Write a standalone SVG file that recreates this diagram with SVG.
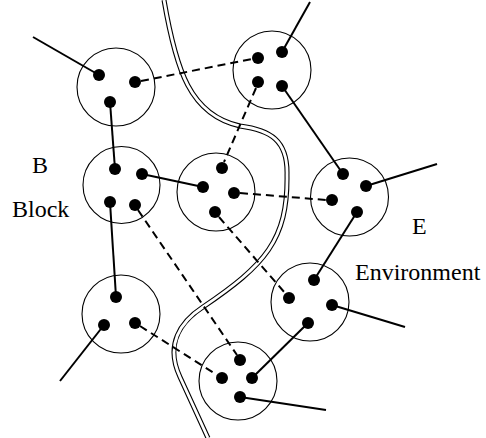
<svg xmlns="http://www.w3.org/2000/svg" width="486" height="438" viewBox="0 0 486 438">
<style>
.ring{fill:none;stroke:#000;stroke-width:1.1}
.dot{fill:#000}
.solid{stroke:#000;stroke-width:2;fill:none}
.dash{stroke:#000;stroke-width:2;fill:none;stroke-dasharray:8 5}
.lbl{font-family:"Liberation Serif","Times New Roman",serif;font-size:24px;fill:#000}
</style>
<rect width="486" height="438" fill="#fff"/>
<g id="boundary">
<path d="M164,0 C176,70 190,115 240,126 C270,130 288,140 287,175 C288,240 265,265 203,307 C180,322 165,345 180,377 L208,438" fill="none" stroke="#000" stroke-width="5"/>
<path d="M164,0 C176,70 190,115 240,126 C270,130 288,140 287,175 C288,240 265,265 203,307 C180,322 165,345 180,377 L208,438" fill="none" stroke="#fff" stroke-width="2.8"/>
</g>
<g id="connectors">
<line class="solid" x1="33" y1="37" x2="99" y2="75"/>
<line class="solid" x1="282" y1="52" x2="310" y2="2"/>
<line class="solid" x1="366" y1="186" x2="437" y2="164"/>
<line class="solid" x1="332" y1="305" x2="405" y2="327"/>
<line class="solid" x1="240" y1="397" x2="326" y2="410"/>
<line class="solid" x1="104" y1="325" x2="60" y2="381"/>
<line class="solid" x1="110" y1="102" x2="115" y2="169"/>
<line class="solid" x1="142" y1="174" x2="203" y2="187"/>
<line class="solid" x1="282" y1="86" x2="343" y2="174"/>
<line class="solid" x1="357" y1="212" x2="314" y2="280"/>
<line class="solid" x1="308" y1="323" x2="252" y2="378"/>
<line class="solid" x1="110" y1="202" x2="116" y2="297"/>
<line class="dash" x1="141" y1="81" x2="252" y2="59"/>
<line class="dash" x1="256" y1="88" x2="224" y2="162"/>
<line class="dash" x1="240" y1="193" x2="326" y2="200"/>
<line class="dash" x1="219" y1="217" x2="285" y2="293"/>
<line class="dash" x1="138" y1="210" x2="237" y2="355"/>
<line class="dash" x1="140" y1="326" x2="217" y2="375"/>
</g>
<g id="n1"><circle class="ring" cx="116" cy="87" r="39"/><circle class="dot" cx="99" cy="75" r="6"/><circle class="dot" cx="135" cy="82" r="6"/><circle class="dot" cx="110" cy="102" r="6"/></g>
<g id="n2"><circle class="ring" cx="121.5" cy="185" r="38.5"/><circle class="dot" cx="115" cy="169" r="6"/><circle class="dot" cx="142" cy="174" r="6"/><circle class="dot" cx="110" cy="202" r="6"/><circle class="dot" cx="135" cy="205" r="6"/></g>
<g id="n3"><circle class="ring" cx="216" cy="192" r="39"/><circle class="dot" cx="222" cy="168" r="6"/><circle class="dot" cx="203" cy="187" r="6"/><circle class="dot" cx="234" cy="193" r="6"/><circle class="dot" cx="215" cy="212" r="6"/></g>
<g id="n4"><circle class="ring" cx="272" cy="70" r="39"/><circle class="dot" cx="258" cy="58" r="6"/><circle class="dot" cx="282" cy="52" r="6"/><circle class="dot" cx="258" cy="82" r="6"/><circle class="dot" cx="282" cy="86" r="6"/></g>
<g id="n5"><circle class="ring" cx="349.5" cy="197" r="39"/><circle class="dot" cx="343" cy="174" r="6"/><circle class="dot" cx="366" cy="186" r="6"/><circle class="dot" cx="332" cy="200" r="6"/><circle class="dot" cx="357" cy="212" r="6"/></g>
<g id="n6"><circle class="ring" cx="310" cy="302" r="39"/><circle class="dot" cx="314" cy="280" r="6"/><circle class="dot" cx="289" cy="298" r="6"/><circle class="dot" cx="332" cy="305" r="6"/><circle class="dot" cx="308" cy="323" r="6"/></g>
<g id="n7"><circle class="ring" cx="238" cy="381" r="39"/><circle class="dot" cx="240" cy="360" r="6"/><circle class="dot" cx="222" cy="378" r="6"/><circle class="dot" cx="252" cy="378" r="6"/><circle class="dot" cx="240" cy="397" r="6"/></g>
<g id="n8"><circle class="ring" cx="121" cy="314" r="39"/><circle class="dot" cx="116" cy="297" r="6"/><circle class="dot" cx="104" cy="325" r="6"/><circle class="dot" cx="135" cy="323" r="6"/></g>
<g id="labels">
<text class="lbl" x="32" y="173">B</text>
<text class="lbl" x="12" y="217">Block</text>
<text class="lbl" x="412" y="234">E</text>
<text class="lbl" x="355" y="280">Environment</text>
</g>
</svg>
